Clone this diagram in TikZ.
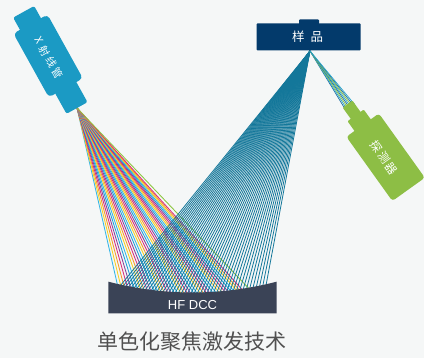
\documentclass[tikz,border=0pt]{standalone}
\usepackage{fontspec}
\setmainfont{Liberation Sans}
\newfontfamily\cjk{Noto Sans CJK SC}
\begin{document}
\definecolor{bg}{HTML}{F5F7F7}
\definecolor{tubeblue}{HTML}{1B9AC4}
\definecolor{samplenavy}{HTML}{033A6B}
\definecolor{detgreen}{HTML}{8DBE45}
\definecolor{dccgrey}{HTML}{3A4356}
\definecolor{teal}{HTML}{13779A}
\definecolor{capgrey}{HTML}{505050}
% beam colours, cycled across the X-ray fan
\definecolor{xc0}{HTML}{35B6E6}
\definecolor{xc1}{HTML}{F7D01F}
\definecolor{xc2}{HTML}{F39A2B}
\definecolor{xc3}{HTML}{DA2C7A}
\definecolor{xc4}{HTML}{8B3F98}
\definecolor{xc5}{HTML}{1E9FD8}
\definecolor{xgreen}{HTML}{8DC63F}
% detector beam colours
\definecolor{dc0}{HTML}{1D6FA5}
\definecolor{dc1}{HTML}{2AA7C9}
\definecolor{dc2}{HTML}{8DC63F}
\begin{tikzpicture}[x=1pt,y=-1pt,
  ray/.style={line width=0.85pt},
  label/.style={text=white,inner sep=0pt},
  ]
\useasboundingbox (0,0) rectangle (424,358);
\fill[bg] (0,0) rectangle (424,358);

\coordinate (xsrc) at (77,108);
\coordinate (ssrc) at (310,51);

% X-ray fan from the tube onto the DCC surface
\foreach \i in {0,...,39} {
  \pgfmathsetmacro\xe{120+\i*128/39}
  \pgfmathtruncatemacro\c{mod(\i,6)}
  \draw[ray,color=xc\c] (xsrc) -- (\xe,296);
}
\draw[ray,color=xgreen] (xsrc) -- (256,296);

% focused beam from the DCC surface to the sample
\foreach \i in {0,...,47} {
  \pgfmathsetmacro\xe{112+\i*152/47}
  \draw[line width=0.8pt,color=teal] (ssrc) -- (\xe,296);
}

% fluorescence towards the detector
\foreach \b/\c in {-5/dc0,-3.5/dc1,-2/dc2,-0.5/dc0,1/dc1,2.5/dc2,4/dc0,5.5/dc1} {
  \draw[line width=0.7pt,color=\c] (ssrc) -- ({347.5+0.813*\b+0.583*4},{104-0.583*\b+0.813*4});
}

% X-ray tube
\begin{scope}[shift={(77,108)},rotate=119]
  \fill[tubeblue,rounded corners=2pt] (0,-12) rectangle (25,12);
  \fill[tubeblue,rounded corners=4pt] (23,-19.5) rectangle (96,19.5);
  \fill[tubeblue,rounded corners=2pt] (93,-12) rectangle (110,12);
\end{scope}
\node[label,rotate=-61,font=\cjk\fontsize{10.5}{10.5}\selectfont] (tube) at (49,58)
  {X\hspace{3.5pt}射\hspace{2.5pt}线\hspace{2.5pt}管};

% sample
\fill[samplenavy,rounded corners=1pt] (299,19.3) rectangle (319,26);
\fill[samplenavy,rounded corners=1pt] (256.5,23.3) rectangle (360.7,50.5);
\node[label,font=\cjk\fontsize{12.5}{12.5}\selectfont] (sample) at (307.5,37)
  {样\hspace{6pt}品};

% detector
\begin{scope}[shift={(347.5,104)},rotate=-54.4]
  \fill[detgreen,rounded corners=1pt] (0,-6) rectangle (16,6);
  \fill[detgreen,rounded corners=1pt] (14,-10) rectangle (28,10);
  \fill[detgreen,rounded corners=3pt] (26,-20) rectangle (105,20);
\end{scope}
\node[label,rotate=-54.4,font=\cjk\fontsize{11.5}{11.5}\selectfont] (detector) at (384,158)
  {探\hspace{2pt}测\hspace{2pt}器};

% doubly curved crystal
\fill[dccgrey] (108.3,281.7) .. controls (164.4,296.1) and (220.6,296.1) .. (276.7,281.7)
  -- (276.7,313.3) -- (108.3,313.3) -- cycle;
\node[label,font=\fontsize{13}{13}\selectfont] (dcc) at (192.5,305) {HF DCC};

% caption
\node[text=capgrey,inner sep=0pt,font=\cjk\fontsize{21}{21}\selectfont] (caption) at (192,342)
  {单色化聚焦激发技术};
\end{tikzpicture}
\end{document}
